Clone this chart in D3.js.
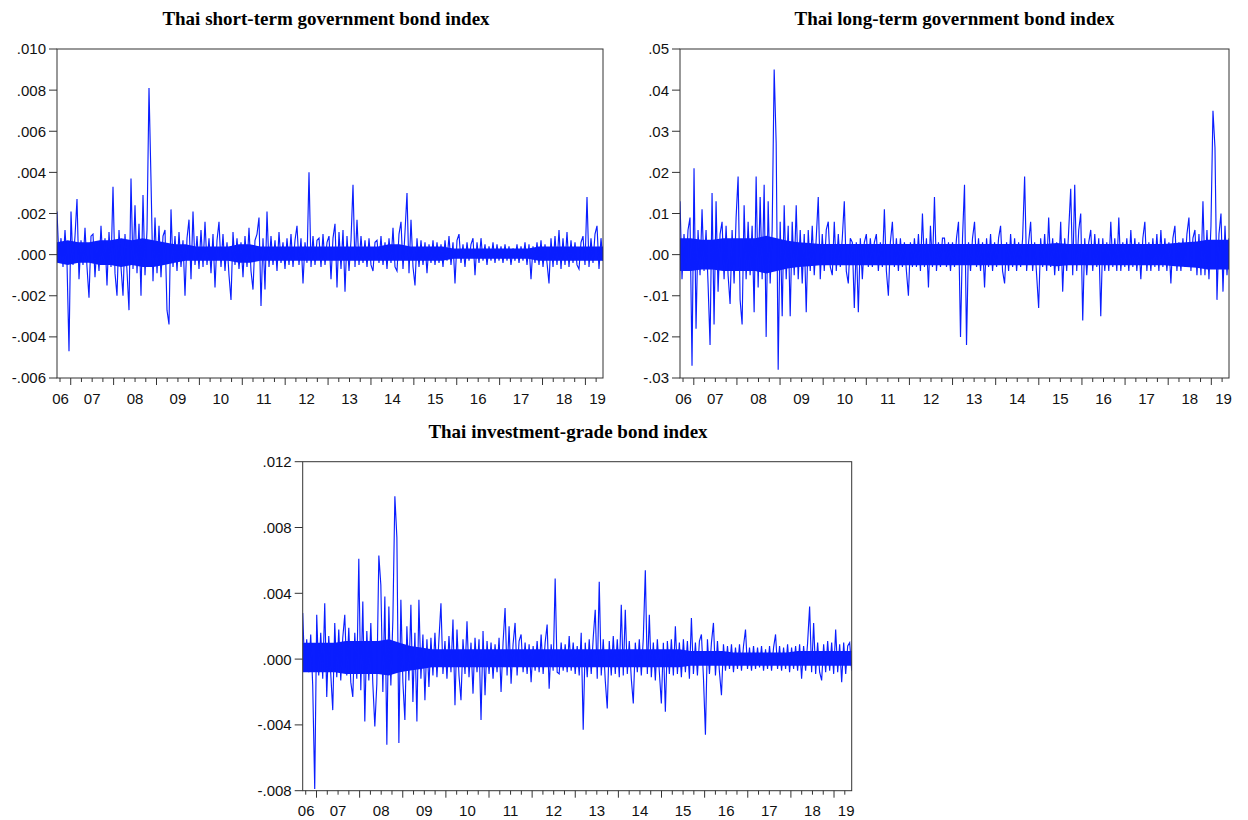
<!DOCTYPE html>
<html><head><meta charset="utf-8">
<script src="https://cdn.jsdelivr.net/npm/d3@7"></script>
<style>
html,body{margin:0;padding:0;background:#fff;}
svg{display:block;}
</style></head><body>
<svg id="c" width="1248" height="820"></svg>
<script>
// ---- data ----
const startYear = 2006.68, endYear = 2019.41;
const years = [2006,2007,2008,2009,2010,2011,2012,2013,2014,2015,2016,2017,2018,2019];
const yearLabels = ["06","07","08","09","10","11","12","13","14","15","16","17","18","19"];
const titles = ["Thai short-term government bond index","Thai long-term government bond index","Thai investment-grade bond index"];
const shortTicks = [-0.006,-0.004,-0.002,0,0.002,0.004,0.006,0.008,0.010];
const longTicks = [-0.03,-0.02,-0.01,0,0.01,0.02,0.03,0.04,0.05];
const igTicks = [-0.008,-0.004,0,0.004,0.008,0.012];

// daily returns (sampled: spikes and fringe)
const shortTerm = [21e-4,-3e-4,8e-4,-6e-4,12e-4,-4e-4,-47e-4,21e-4,-5e-4,9e-4,
27e-4,-12e-4,7e-4,-5e-4,13e-4,-6e-4,-21e-4,9e-4,10e-4,-11e-4,
6e-4,-8e-4,14e-4,-5e-4,8e-4,-15e-4,11e-4,-6e-4,33e-4,-9e-4,
-20e-4,12e-4,-6e-4,-20e-4,10e-4,-8e-4,-27e-4,37e-4,-7e-4,24e-4,
-9e-4,15e-4,-20e-4,29e-4,-10e-4,12e-4,81e-4,36e-4,-13e-4,18e-4,
-9e-4,14e-4,-11e-4,9e-4,12e-4,-27e-4,-34e-4,22e-4,-6e-4,9e-4,
-8e-4,11e-4,-6e-4,7e-4,-20e-4,8e-4,17e-4,-12e-4,21e-4,-5e-4,
9e-4,-7e-4,12e-4,-6e-4,16e-4,-5e-4,8e-4,-9e-4,10e-4,-16e-4,
7e-4,16e-4,-6e-4,10e-4,-8e-4,6e-4,-10e-4,-22e-4,11e-4,-5e-4,
8e-4,-7e-4,6e-4,-11e-4,9e-4,-6e-4,13e-4,-8e-4,-17e-4,7e-4,
10e-4,18e-4,-25e-4,8e-4,-17e-4,21e-4,-6e-4,9e-4,-5e-4,7e-4,
-8e-4,11e-4,-4e-4,6e-4,-7e-4,8e-4,-5e-4,10e-4,-6e-4,7e-4,
14e-4,-5e-4,8e-4,-14e-4,6e-4,-4e-4,40e-4,-6e-4,9e-4,-5e-4,
7e-4,8e-4,-6e-4,10e-4,-5e-4,6e-4,9e-4,-12e-4,8e-4,15e-4,
-16e-4,11e-4,-7e-4,12e-4,-18e-4,9e-4,-8e-4,7e-4,34e-4,-6e-4,
17e-4,-5e-4,9e-4,-4e-4,7e-4,-6e-4,8e-4,-5e-4,-8e-4,6e-4,
7e-4,-4e-4,9e-4,-5e-4,6e-4,-7e-4,8e-4,-4e-4,13e-4,-6e-4,
-8e-4,10e-4,16e-4,-7e-4,11e-4,30e-4,-9e-4,17e-4,-6e-4,-15e-4,
8e-4,-6e-4,7e-4,-5e-4,6e-4,-9e-4,5e-4,-4e-4,7e-4,-5e-4,
6e-4,-4e-4,5e-4,-6e-4,7e-4,-3e-4,9e-4,-5e-4,6e-4,-14e-4,
7e-4,10e-4,-4e-4,5e-4,-6e-4,6e-4,-3e-4,5e-4,8e-4,-10e-4,
6e-4,-4e-4,8e-4,-3e-4,5e-4,-5e-4,4e-4,-3e-4,6e-4,-4e-4,
5e-4,-3e-4,4e-4,-4e-4,5e-4,-3e-4,4e-4,-5e-4,3e-4,-3e-4,
5e-4,-4e-4,4e-4,-3e-4,6e-4,-5e-4,5e-4,-12e-4,4e-4,-4e-4,
6e-4,-5e-4,7e-4,-6e-4,5e-4,-4e-4,-14e-4,8e-4,-6e-4,9e-4,
-5e-4,12e-4,-7e-4,8e-4,-5e-4,11e-4,-6e-4,7e-4,-4e-4,6e-4,
-5e-4,-7e-4,6e-4,9e-4,-5e-4,28e-4,-6e-4,8e-4,-4e-4,10e-4,
14e-4,-7e-4,8e-4,-3e-4];

const longTerm = [13e-3,-6e-3,5e-3,-4e-3,6e-3,9e-3,-27e-3,21e-3,-18e-3,6e-3,
-5e-3,11e-3,-4e-3,6e-3,-7e-3,-22e-3,15e-3,-17e-3,13e-3,-9e-3,
5e-3,8e-3,-6e-3,7e-3,-5e-3,-12e-3,6e-3,-7e-3,9e-3,19e-3,
-11e-3,-17e-3,12e-3,-6e-3,8e-3,-5e-3,7e-3,-14e-3,19e-3,-8e-3,
14e-3,-6e-3,17e-3,-20e-3,13e-3,-7e-3,6e-3,45e-3,27e-3,-28e-3,
8e-3,-15e-3,12e-3,-6e-3,7e-3,-15e-3,8e-3,-5e-3,12e-3,-6e-3,
6e-3,-7e-3,5e-3,-14e-3,6e-3,-4e-3,7e-3,-5e-3,4e-3,14e-3,
-6e-3,5e-3,-4e-3,6e-3,8e-3,-3e-3,-5e-3,8e-3,-4e-3,5e-3,
-3e-3,4e-3,13e-3,-4e-3,-7e-3,4e-3,3e-3,-13e-3,3e-3,-14e-3,
4e-3,-6e-3,3e-3,5e-3,-3e-3,4e-3,-3e-3,3e-3,5e-3,-4e-3,
3e-3,-3e-3,11e-3,-4e-3,-10e-3,3e-3,8e-3,-3e-3,4e-3,-4e-3,
4e-3,-3e-3,3e-3,-4e-3,-10e-3,3e-3,-3e-3,4e-3,-3e-3,5e-3,
-4e-3,10e-3,-3e-3,4e-3,-8e-3,7e-3,-3e-3,14e-3,-4e-3,3e-3,
-3e-3,4e-3,4e-3,-3e-3,3e-3,-4e-3,3e-3,-3e-3,4e-3,8e-3,
-20e-3,4e-3,17e-3,-22e-3,3e-3,-4e-3,4e-3,8e-3,-3e-3,4e-3,
-4e-3,3e-3,-8e-3,4e-3,-3e-3,5e-3,-4e-3,3e-3,-3e-3,4e-3,
7e-3,-4e-3,-7e-3,3e-3,-4e-3,5e-3,-3e-3,4e-3,-4e-3,3e-3,
-3e-3,4e-3,19e-3,-4e-3,3e-3,8e-3,-4e-3,3e-3,-5e-3,-13e-3,
4e-3,-3e-3,5e-3,-4e-3,9e-3,-3e-3,4e-3,-5e-3,3e-3,-4e-3,
8e-3,-9e-3,4e-3,-4e-3,6e-3,16e-3,-5e-3,17e-3,-4e-3,6e-3,
10e-3,-16e-3,4e-3,-5e-3,3e-3,6e-3,-4e-3,5e-3,-3e-3,4e-3,
-15e-3,4e-3,-4e-3,3e-3,-4e-3,8e-3,-3e-3,4e-3,-4e-3,9e-3,
-4e-3,3e-3,-3e-3,4e-3,-4e-3,6e-3,-3e-3,4e-3,-4e-3,3e-3,
-6e-3,4e-3,8e-3,-4e-3,3e-3,-4e-3,4e-3,-3e-3,5e-3,-4e-3,
6e-3,-3e-3,4e-3,-4e-3,3e-3,-7e-3,4e-3,7e-3,-4e-3,3e-3,
-4e-3,4e-3,-3e-3,5e-3,9e-3,-4e-3,4e-3,6e-3,-5e-3,5e-3,
-5e-3,13e-3,-5e-3,6e-3,-6e-3,7e-3,35e-3,26e-3,-11e-3,5e-3,
10e-3,-9e-3,7e-3,-5e-3,4e-3];

const investGrade = [28e-4,-7e-4,12e-4,-8e-4,15e-4,-16e-4,-79e-4,27e-4,-10e-4,16e-4,
-12e-4,34e-4,-23e-4,14e-4,-9e-4,-31e-4,22e-4,-11e-4,18e-4,-13e-4,
13e-4,27e-4,-10e-4,19e-4,-14e-4,-23e-4,16e-4,-12e-4,61e-4,-19e-4,
35e-4,-38e-4,17e-4,-13e-4,22e-4,-15e-4,-41e-4,-15e-4,63e-4,45e-4,
-20e-4,38e-4,-52e-4,32e-4,-16e-4,24e-4,99e-4,74e-4,-51e-4,36e-4,
-14e-4,-37e-4,20e-4,-13e-4,33e-4,-26e-4,16e-4,-38e-4,36e-4,-12e-4,
15e-4,-25e-4,12e-4,-17e-4,13e-4,-10e-4,16e-4,-11e-4,12e-4,34e-4,
-9e-4,11e-4,-12e-4,14e-4,-8e-4,24e-4,-28e-4,18e-4,-10e-4,-25e-4,
12e-4,-9e-4,23e-4,-11e-4,10e-4,-21e-4,13e-4,-8e-4,12e-4,-37e-4,
17e-4,-22e-4,11e-4,-9e-4,10e-4,-12e-4,9e-4,-8e-4,13e-4,-20e-4,
10e-4,31e-4,-10e-4,20e-4,-15e-4,9e-4,22e-4,-10e-4,11e-4,15e-4,
-8e-4,10e-4,-9e-4,9e-4,-14e-4,8e-4,-7e-4,11e-4,-8e-4,15e-4,
-9e-4,10e-4,21e-4,-18e-4,9e-4,-7e-4,49e-4,-8e-4,-9e-4,10e-4,
-7e-4,9e-4,-8e-4,14e-4,-7e-4,10e-4,-9e-4,8e-4,-10e-4,16e-4,
-43e-4,10e-4,-11e-4,12e-4,-9e-4,13e-4,30e-4,-12e-4,47e-4,-10e-4,
12e-4,-13e-4,-30e-4,11e-4,-10e-4,14e-4,-9e-4,12e-4,-11e-4,33e-4,
-10e-4,30e-4,-9e-4,11e-4,-12e-4,-27e-4,10e-4,-8e-4,12e-4,-10e-4,
13e-4,54e-4,-9e-4,27e-4,-11e-4,10e-4,-13e-4,12e-4,-8e-4,-27e-4,
10e-4,-32e-4,11e-4,-9e-4,12e-4,-10e-4,20e-4,-9e-4,10e-4,-11e-4,
12e-4,-8e-4,11e-4,-12e-4,25e-4,-9e-4,10e-4,-10e-4,11e-4,15e-4,
-11e-4,-46e-4,12e-4,-9e-4,10e-4,22e-4,-10e-4,11e-4,-8e-4,-22e-4,
9e-4,-7e-4,8e-4,-6e-4,9e-4,-8e-4,7e-4,-6e-4,9e-4,-7e-4,
8e-4,18e-4,-6e-4,7e-4,-7e-4,8e-4,-6e-4,7e-4,-5e-4,8e-4,
-7e-4,6e-4,-6e-4,8e-4,-7e-4,7e-4,15e-4,-6e-4,8e-4,-7e-4,
7e-4,-6e-4,9e-4,-8e-4,7e-4,-6e-4,8e-4,-7e-4,9e-4,-12e-4,
8e-4,-7e-4,10e-4,32e-4,-8e-4,22e-4,-9e-4,10e-4,-8e-4,-13e-4,
9e-4,-8e-4,11e-4,-7e-4,10e-4,-9e-4,18e-4,-8e-4,9e-4,-14e-4,
10e-4,-9e-4,8e-4,10e-4,-7e-4];

// dense core of the daily series (upper / lower edge, quarterly)
const shortCoreHi = [6e-4,7e-4,6e-4,6e-4,7e-4,7e-4,8e-4,7e-4,8e-4,7e-4,6e-4,5e-4,5e-4,4e-4,4e-4,4e-4,4e-4,5e-4,5e-4,4e-4,4e-4,4e-4,4e-4,4e-4,4e-4,4e-4,4e-4,4e-4,4e-4,4e-4,4e-4,5e-4,5e-4,4e-4,4e-4,4e-4,4e-4,3e-4,3e-4,3e-4,3e-4,3e-4,3e-4,3e-4,3e-4,4e-4,4e-4,4e-4,4e-4,4e-4,4e-4,4e-4];
const shortCoreLo = [-4e-4,-5e-4,-4e-4,-4e-4,-5e-4,-5e-4,-6e-4,-5e-4,-6e-4,-6e-4,-5e-4,-4e-4,-3e-4,-3e-4,-3e-4,-3e-4,-3e-4,-4e-4,-4e-4,-3e-4,-3e-4,-3e-4,-3e-4,-3e-4,-3e-4,-3e-4,-3e-4,-3e-4,-3e-4,-3e-4,-3e-4,-3e-4,-3e-4,-3e-4,-3e-4,-3e-4,-3e-4,-2e-4,-2e-4,-2e-4,-2e-4,-2e-4,-2e-4,-2e-4,-2e-4,-3e-4,-3e-4,-3e-4,-3e-4,-3e-4,-3e-4,-3e-4];
const longCoreHi = [40e-4,40e-4,36e-4,36e-4,40e-4,40e-4,40e-4,40e-4,46e-4,40e-4,34e-4,30e-4,28e-4,26e-4,26e-4,26e-4,26e-4,26e-4,26e-4,26e-4,26e-4,26e-4,26e-4,26e-4,26e-4,26e-4,26e-4,26e-4,26e-4,26e-4,26e-4,26e-4,26e-4,26e-4,26e-4,28e-4,26e-4,26e-4,26e-4,26e-4,26e-4,26e-4,26e-4,26e-4,26e-4,26e-4,28e-4,30e-4,32e-4,36e-4,36e-4,36e-4];
const longCoreLo = [-40e-4,-40e-4,-36e-4,-36e-4,-40e-4,-40e-4,-40e-4,-40e-4,-46e-4,-40e-4,-34e-4,-30e-4,-28e-4,-26e-4,-26e-4,-26e-4,-26e-4,-26e-4,-26e-4,-26e-4,-26e-4,-26e-4,-26e-4,-26e-4,-26e-4,-26e-4,-26e-4,-26e-4,-26e-4,-26e-4,-26e-4,-26e-4,-26e-4,-26e-4,-26e-4,-28e-4,-26e-4,-26e-4,-26e-4,-26e-4,-26e-4,-26e-4,-26e-4,-26e-4,-26e-4,-26e-4,-28e-4,-30e-4,-32e-4,-36e-4,-36e-4,-36e-4];
const igCoreHi = [10e-4,10e-4,10e-4,10e-4,11e-4,11e-4,11e-4,11e-4,12e-4,10e-4,8e-4,7e-4,6e-4,6e-4,6e-4,6e-4,6e-4,6e-4,6e-4,6e-4,6e-4,6e-4,6e-4,6e-4,6e-4,6e-4,6e-4,6e-4,6e-4,6e-4,6e-4,6e-4,6e-4,6e-4,6e-4,6e-4,5e-4,5e-4,5e-4,5e-4,4e-4,4e-4,4e-4,4e-4,4e-4,4e-4,5e-4,5e-4,5e-4,5e-4,5e-4,5e-4];
const igCoreLo = [-8e-4,-8e-4,-8e-4,-8e-4,-9e-4,-9e-4,-9e-4,-9e-4,-10e-4,-8e-4,-7e-4,-6e-4,-5e-4,-5e-4,-5e-4,-5e-4,-5e-4,-5e-4,-5e-4,-5e-4,-5e-4,-5e-4,-5e-4,-5e-4,-5e-4,-5e-4,-5e-4,-5e-4,-5e-4,-5e-4,-5e-4,-5e-4,-5e-4,-5e-4,-5e-4,-5e-4,-4e-4,-4e-4,-4e-4,-4e-4,-4e-4,-4e-4,-4e-4,-4e-4,-4e-4,-4e-4,-4e-4,-4e-4,-4e-4,-4e-4,-4e-4,-4e-4];

// ---- drawing ----
const svg = d3.select("#c");
const lineColor = "#0a1eff";
const frameColor = "#333";

const panels = [
  {title: titles[0], data: shortTerm, hi: shortCoreHi, lo: shortCoreLo, ticks: shortTicks, fmt: ".3f", l:57, t:49, r:603, b:378, tx:326, ty:25},
  {title: titles[1], data: longTerm, hi: longCoreHi, lo: longCoreLo, ticks: longTicks, fmt: ".2f", l:680, t:49, r:1229, b:378, tx:954.5, ty:25},
  {title: titles[2], data: investGrade, hi: igCoreHi, lo: igCoreLo, ticks: igTicks, fmt: ".3f", l:302.7, t:461.7, r:851.7, b:790.7, tx:568, ty:438}
];

function tickText(s){ return s.replace("\u2212", "-").replace(/^(-?)0\./, "$1."); }

panels.forEach((p, k) => {
  const g = svg.append("g");
  const xs = d3.scaleLinear().domain([startYear, endYear]).range([p.l, p.r]);
  const ys = d3.scaleLinear().domain([p.ticks[0], p.ticks[p.ticks.length-1]]).range([p.b, p.t]);
  const n = p.data.length;
  const dates = d3.range(n).map(i => startYear + i * (endYear - startYear) / (n - 1));
  const m = p.hi.length;
  const cdates = d3.range(m).map(i => startYear + i * (endYear - startYear) / (m - 1));

  g.append("text").attr("x", p.tx).attr("y", p.ty)
    .attr("text-anchor", "middle")
    .style("font-family", "'Liberation Serif','Times New Roman',serif")
    .style("font-weight", "bold").style("font-size", "19px")
    .text(p.title);

  svg.append("clipPath").attr("id", "clip" + k)
    .append("rect").attr("x", p.l).attr("y", p.t).attr("width", p.r - p.l).attr("height", p.b - p.t);

  // dense core band of the daily series
  const area = d3.area().x((d, i) => xs(cdates[i])).y0((d, i) => ys(p.lo[i])).y1(d => ys(d));
  g.append("path").datum(p.hi)
    .attr("clip-path", "url(#clip" + k + ")")
    .attr("fill", lineColor).attr("stroke", "none")
    .attr("d", area);

  // series
  const line = d3.line().x((d, i) => xs(dates[i])).y(d => ys(d));
  g.append("path").datum(p.data)
    .attr("clip-path", "url(#clip" + k + ")")
    .attr("fill", "none").attr("stroke", lineColor).attr("stroke-width", 1.15)
    .attr("d", line);

  g.append("rect").attr("x", p.l).attr("y", p.t).attr("width", p.r - p.l).attr("height", p.b - p.t)
    .attr("fill", "none").attr("stroke", frameColor).attr("stroke-width", 1);

  const fmt = d3.format(p.fmt);
  p.ticks.forEach(v => {
    const y = ys(v);
    g.append("line").attr("x1", p.l - 8).attr("x2", p.l).attr("y1", y).attr("y2", y)
      .attr("stroke", frameColor).attr("stroke-width", 1);
    g.append("text").attr("x", p.l - 11).attr("y", y).attr("dy", "0.36em")
      .attr("text-anchor", "end")
      .style("font-family", "'Liberation Sans',Arial,sans-serif").style("font-size", "15px")
      .attr("fill", "#111")
      .text(tickText(fmt(v)));
  });

  years.forEach(yr => {
    [0, 0.25, 0.5, 0.75].forEach(q => {
      const t = yr + q;
      if (t < startYear || t > endYear) return;
      const x = xs(t);
      g.append("line").attr("x1", x).attr("x2", x).attr("y1", p.b).attr("y2", p.b + (q === 0 ? 7 : 4))
        .attr("stroke", frameColor).attr("stroke-width", 1);
    });
  });
  years.forEach((yr, j) => {
    const cx = Math.max(p.l + 3.5, Math.min(p.r - 5.5, xs(yr + 0.5)));
    g.append("text").attr("x", cx).attr("y", p.b + 25.5)
      .attr("text-anchor", "middle")
      .style("font-family", "'Liberation Sans',Arial,sans-serif").style("font-size", "15px")
      .attr("fill", "#111")
      .text(yearLabels[j]);
  });
});
</script>
</body></html>
